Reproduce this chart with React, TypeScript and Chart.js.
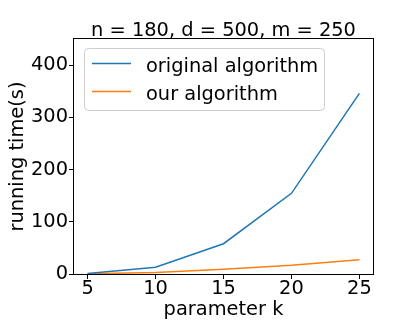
import React, { useEffect, useRef } from "react";
import { Chart, registerables } from "chart.js";

Chart.register(...registerables);

const kValues = [5, 10, 15, 20, 25];
const originalTimes = [1, 13, 58, 154.5, 346];
const ourTimes = [0.3, 3, 9, 16.6, 27.5];
const xTicks = [5, 10, 15, 20, 25];
const yTicks = [0, 100, 200, 300, 400];
const seriesLabels = ["original algorithm", "our algorithm"];
const seriesColors = ["#1f77b4", "#ff7f0e"];
const titleText = "n = 180, d = 500, m = 250";
const xLabel = "parameter k";
const yLabel = "running time(s)";

const FONT = "'DejaVu Sans', sans-serif";
const FS = 19.4;

const decorPlugin = {
  id: "decor",
  afterDraw(chart: any) {
    const ctx = chart.ctx as CanvasRenderingContext2D;
    const a = chart.chartArea;
    ctx.save();
    // spines
    ctx.strokeStyle = "#000";
    ctx.lineWidth = 1;
    ctx.strokeRect(Math.round(a.left) - 0.5, Math.round(a.top) - 0.5, Math.round(a.right - a.left) + 1, Math.round(a.bottom - a.top) + 1);

    // texts
    ctx.fillStyle = "#000";
    ctx.font = `${FS}px ${FONT}`;
    ctx.textAlign = "center";
    ctx.textBaseline = "alphabetic";
    const cx = (a.left + a.right) / 2;
    ctx.fillText(titleText, cx, 35.5);
    ctx.fillText(xLabel, cx, 315);
    ctx.save();
    ctx.translate(23, (a.top + a.bottom) / 2);
    ctx.rotate(-Math.PI / 2);
    ctx.fillText(yLabel, 0, 0);
    ctx.restore();

    // legend
    const bx = 84.5, by = 48.5, bw = 240, bh = 62, r = 4;
    ctx.beginPath();
    ctx.moveTo(bx + r, by);
    ctx.lineTo(bx + bw - r, by);
    ctx.arcTo(bx + bw, by, bx + bw, by + r, r);
    ctx.lineTo(bx + bw, by + bh - r);
    ctx.arcTo(bx + bw, by + bh, bx + bw - r, by + bh, r);
    ctx.lineTo(bx + r, by + bh);
    ctx.arcTo(bx, by + bh, bx, by + bh - r, r);
    ctx.lineTo(bx, by + r);
    ctx.arcTo(bx, by, bx + r, by, r);
    ctx.closePath();
    ctx.fillStyle = "rgba(255,255,255,0.8)";
    ctx.fill();
    ctx.strokeStyle = "#cccccc";
    ctx.lineWidth = 1;
    ctx.stroke();

    const rows = [
      { lineY: 63.5, baseY: 71.5 },
      { lineY: 91.5, baseY: 100 },
    ];
    rows.forEach((row, i) => {
      ctx.beginPath();
      ctx.strokeStyle = seriesColors[i];
      ctx.lineWidth = 1.5;
      ctx.moveTo(92, row.lineY);
      ctx.lineTo(131, row.lineY);
      ctx.stroke();
      ctx.fillStyle = "#000";
      ctx.textAlign = "left";
      ctx.fillText(seriesLabels[i], 146, row.baseY);
    });
    ctx.restore();
  },
};

export default function App() {
  const canvasRef = useRef<HTMLCanvasElement | null>(null);

  useEffect(() => {
    if (!canvasRef.current) return;
    const chart = new Chart(canvasRef.current, {
      type: "line",
      data: {
        datasets: [
          {
            label: seriesLabels[0],
            data: kValues.map((k, i) => ({ x: k, y: originalTimes[i] })),
            borderColor: seriesColors[0],
            backgroundColor: seriesColors[0],
            borderWidth: 1.5,
            pointRadius: 0,
            tension: 0,
          },
          {
            label: seriesLabels[1],
            data: kValues.map((k, i) => ({ x: k, y: ourTimes[i] })),
            borderColor: seriesColors[1],
            backgroundColor: seriesColors[1],
            borderWidth: 1.5,
            pointRadius: 0,
            tension: 0,
          },
        ],
      },
      options: {
        responsive: false,
        animation: false,
        layout: { padding: { left: 0, right: 42, top: 39, bottom: 0 } },
        plugins: {
          legend: { display: false },
          title: { display: false },
          tooltip: { enabled: false },
        },
        scales: {
          x: {
            type: "linear",
            min: 4,
            max: 26,
            afterBuildTicks: (s: any) => {
              s.ticks = xTicks.map((v) => ({ value: v }));
            },
            afterFit: (s: any) => {
              s.height = 49;
            },
            ticks: {
              font: { family: FONT, size: FS },
              color: "#000",
              padding: -2,
              maxRotation: 0,
              autoSkip: false,
            },
            grid: {
              display: true,
              drawOnChartArea: false,
              drawTicks: true,
              tickLength: 5,
              color: "#000",
              lineWidth: 1,
            },
            border: { display: false },
          },
          y: {
            type: "linear",
            min: 0,
            max: 450,
            afterBuildTicks: (s: any) => {
              s.ticks = yTicks.map((v) => ({ value: v }));
            },
            afterFit: (s: any) => {
              s.width = 74;
            },
            ticks: {
              font: { family: FONT, size: FS },
              color: "#000",
              padding: 1,
              autoSkip: false,
            },
            grid: {
              display: true,
              drawOnChartArea: false,
              drawTicks: true,
              tickLength: 5,
              color: "#000",
              lineWidth: 1,
            },
            border: { display: false },
          },
        },
      },
      plugins: [decorPlugin],
    });
    return () => chart.destroy();
  }, []);

  return (
    <div style={{ position: "absolute", left: 0, top: 0, width: 415, height: 323, background: "#fff" }}>
      <canvas ref={canvasRef} width={415} height={323} style={{ display: "block" }} />
    </div>
  );
}
